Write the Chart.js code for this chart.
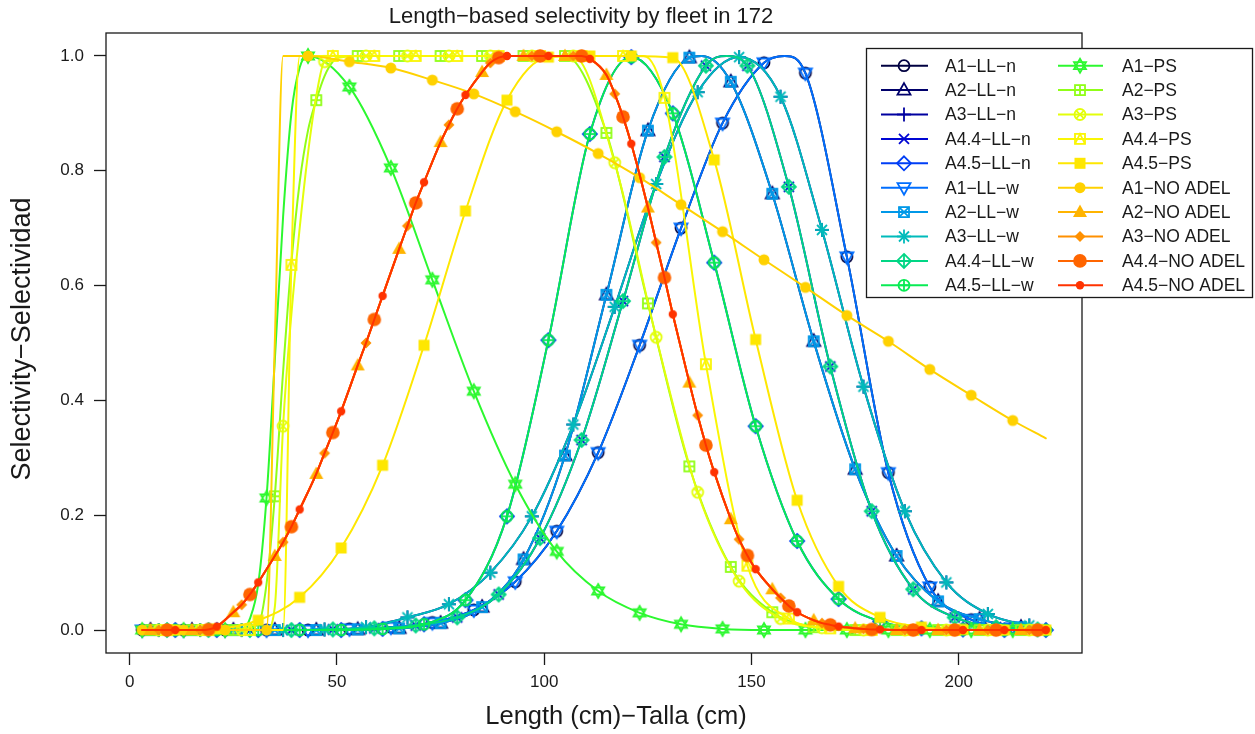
<!DOCTYPE html>
<html>
<head>
<meta charset="utf-8">
<script src="https://cdn.jsdelivr.net/npm/chart.js@4.4.1/dist/chart.umd.min.js"></script>
<style>
  html, body { margin: 0; padding: 0; background: #fff; }
</style>
</head>
<body>
<canvas id="chartSelex" width="1255" height="734"></canvas>
<script>
// values (length in cm, selectivity 0..1)
const lenA1LL = [3,13,23,33,43,53,63,73,83,93,103,113,123,133,143,153,158,163,173,183,193,203,213,221];
const selA1LL = [0,0,0,0,0,0.002,0.005,0.013,0.035,0.084,0.172,0.309,0.496,0.700,0.883,0.988,1.000,0.970,0.650,0.274,0.075,0.018,0.004,0.001];

const lenA2LL = [5,15,25,35,45,55,65,75,85,95,105,115,125,135,138,145,155,165,175,185,195,205,215,221];
const selA2LL = [0,0,0,0,0,0.001,0.003,0.012,0.040,0.123,0.304,0.584,0.870,0.997,1.000,0.955,0.760,0.503,0.280,0.129,0.050,0.019,0.005,0.002];

const lenA3LL = [7,17,27,37,47,57,67,77,87,97,107,117,127,137,147,157,167,177,187,197,207,217,221];
const selA3LL = [0,0,0,0,0.001,0.005,0.022,0.045,0.100,0.198,0.358,0.563,0.777,0.937,0.998,0.929,0.697,0.424,0.207,0.083,0.028,0.008,0.004];

const lenA44LL = [9,19,29,39,49,59,69,79,89,99,109,119,129,139,144,149,159,169,179,189,199,209,219,221];
const selA44LL = [0,0,0,0,0.001,0.003,0.008,0.022,0.062,0.160,0.331,0.573,0.824,0.983,1.000,0.983,0.772,0.459,0.207,0.071,0.022,0.005,0.001,0.001];

const lenA45LL = [11,21,31,41,51,61,71,81,91,101,111,121,131,141,151,161,171,181,191,201,211,221];
const selA45LL = [0,0,0,0,0,0.002,0.010,0.052,0.198,0.505,0.864,0.998,0.900,0.640,0.355,0.155,0.054,0.015,0.003,0.001,0,0];

const lenA1PS = [3,13,23,27,29,31,33,35,37,39,41,43,53,63,73,83,93,103,113,123,133,143,153,163,173,183,193,203,213,221];
const selA1PS = [0,0,0,0,0.02,0.08,0.23,0.47,0.72,0.90,0.98,1.00,0.946,0.805,0.610,0.416,0.254,0.137,0.068,0.030,0.010,0.002,0,0,0,0,0,0,0,0];

const lenA2PS = [5,15,25,31,33,35,37,39,41,43,45,47,49,51,55,65,75,85,95,105,115,125,135,145,155,165,175,185,195,205,215,221];
const selA2PS = [0,0,0,0.01,0.08,0.233,0.45,0.64,0.78,0.87,0.923,0.965,0.99,1,1,1,1,1,1,1,0.866,0.569,0.285,0.110,0.031,0.005,0,0,0,0,0,0];

const lenA3PS = [7,17,27,33,35,37,39,41,43,45,47,57,67,77,87,97,107,117,127,137,147,157,167,177,187,197,207,217,221];
const selA3PS = [0,0,0,0,0.04,0.355,0.55,0.70,0.83,0.93,0.99,1,1,1,1,1,1,0.814,0.510,0.240,0.085,0.020,0.004,0,0,0,0,0,0];

const lenA44PS = [9,19,29,37,39,41,49,59,69,79,89,99,109,119,124,129,139,149,159,169,179,189,199,209,219,221];
const selA44PS = [0,0,0,0,0.636,1,1,1,1,1,1,1,1,1,1,0.927,0.463,0.112,0.020,0.003,0,0,0,0,0,0];

const lenA45PS = [11,21,31,41,51,61,71,81,91,101,111,121,131,141,151,161,171,181,191,201,211,221];
const selA45PS = [0,0.002,0.017,0.057,0.143,0.287,0.496,0.730,0.923,0.998,1,1,0.997,0.819,0.506,0.226,0.076,0.022,0.005,0.001,0,0];

const lenA1NoAdel = [3,13,23,33,35,37,43,53,63,73,83,93,103,113,123,133,143,153,163,173,183,193,203,213,221];
const selA1NoAdel = [0,0,0,0,0.5,1,1,0.990,0.979,0.958,0.934,0.903,0.868,0.830,0.788,0.741,0.694,0.645,0.597,0.548,0.503,0.454,0.409,0.365,0.334];

// A2..A4.5 NO ADEL share one curve
const lenNoAdel = [3,5,7,9,11,15,17,19,21,25,27,29,31,35,37,39,41,45,47,49,51,55,57,59,61,65,67,69,71,75,77,79,81,85,87,89,91,95,97,99,101,105,107,109,111,115,117,119,121,125,127,129,131,135,137,139,141,145,147,149,151,155,157,159,161,165,167,169,171,175,177,179,181,185,187,189,191,195,197,199,201,205,207,209,211,215,217,219,221];
const selNoAdel = [0,0,0,0,0,0,0,0.001,0.006,0.031,0.044,0.062,0.083,0.129,0.153,0.180,0.210,0.272,0.308,0.344,0.381,0.461,0.500,0.541,0.582,0.664,0.704,0.744,0.780,0.850,0.880,0.908,0.932,0.972,0.988,0.997,1,1,1,1,1,1,1,1,0.995,0.967,0.934,0.894,0.847,0.736,0.675,0.614,0.550,0.431,0.374,0.322,0.275,0.193,0.158,0.130,0.106,0.071,0.056,0.042,0.031,0.017,0.012,0.009,0.006,0.003,0.002,0.001,0.001,0,0,0,0,0,0,0,0,0,0,0,0,0,0,0,0];

const fleetNames = ['A1−LL−n','A2−LL−n','A3−LL−n','A4.4−LL−n','A4.5−LL−n',
                    'A1−LL−w','A2−LL−w','A3−LL−w','A4.4−LL−w','A4.5−LL−w',
                    'A1−PS','A2−PS','A3−PS','A4.4−PS','A4.5−PS',
                    'A1−NO ADEL','A2−NO ADEL','A3−NO ADEL','A4.4−NO ADEL','A4.5−NO ADEL'];
const fleetLen = [lenA1LL,lenA2LL,lenA3LL,lenA44LL,lenA45LL, lenA1LL,lenA2LL,lenA3LL,lenA44LL,lenA45LL,
                  lenA1PS,lenA2PS,lenA3PS,lenA44PS,lenA45PS, lenA1NoAdel,lenNoAdel,lenNoAdel,lenNoAdel,lenNoAdel];
const fleetSel = [selA1LL,selA2LL,selA3LL,selA44LL,selA45LL, selA1LL,selA2LL,selA3LL,selA44LL,selA45LL,
                  selA1PS,selA2PS,selA3PS,selA44PS,selA45PS, selA1NoAdel,selNoAdel,selNoAdel,selNoAdel,selNoAdel];
const fleetCols = ['#000040','#00006B','#0000A0','#0006D3','#003EF6','#006EFE','#0098E8','#00BBBB','#01D685','#08EB54',
                   '#2CF82F','#90FE17','#E3FE0A','#FAF604','#FEE701','#FFD100','#FFB400','#FF9000','#FF6500','#FF3300'];
const xTicks = [0, 50, 100, 150, 200];
const yTicks = [0, 0.2, 0.4, 0.6, 0.8, 1.0];

const FONT = "'Liberation Sans', Arial, sans-serif";
const INK = '#1a1a1a';

// R-like plotting symbols, pch 1..20
function drawPch(c, pch, col, x, y) {
  c.save();
  c.strokeStyle = col; c.fillStyle = col; c.lineWidth = 1.8;
  const circle = r => { c.beginPath(); c.arc(x, y, r, 0, Math.PI * 2); };
  const seg = (x1, y1, x2, y2) => { c.beginPath(); c.moveTo(x + x1, y + y1); c.lineTo(x + x2, y + y2); c.stroke(); };
  const poly = pts => { c.beginPath(); pts.forEach((p, i) => i ? c.lineTo(x + p[0], y + p[1]) : c.moveTo(x + p[0], y + p[1])); c.closePath(); };
  const sq = 5;
  switch (pch) {
    case 1: circle(5.5); c.stroke(); break;
    case 2: poly([[0,-7],[6.5,4.5],[-6.5,4.5]]); c.stroke(); break;
    case 3: seg(-7,0,7,0); seg(0,-7,0,7); break;
    case 4: seg(-5,-5,5,5); seg(-5,5,5,-5); break;
    case 5: poly([[0,-7],[7,0],[0,7],[-7,0]]); c.stroke(); break;
    case 6: poly([[0,7],[6.5,-4.5],[-6.5,-4.5]]); c.stroke(); break;
    case 7: c.strokeRect(x-sq, y-sq, 2*sq, 2*sq); seg(-sq,-sq,sq,sq); seg(-sq,sq,sq,-sq); break;
    case 8: seg(-7,0,7,0); seg(0,-7,0,7); seg(-5,-5,5,5); seg(-5,5,5,-5); break;
    case 9: poly([[0,-7],[7,0],[0,7],[-7,0]]); c.stroke(); seg(-7,0,7,0); seg(0,-7,0,7); break;
    case 10: circle(5.5); c.stroke(); seg(-5.5,0,5.5,0); seg(0,-5.5,0,5.5); break;
    case 11: poly([[0,-7],[6,3.5],[-6,3.5]]); c.stroke(); poly([[0,7],[6,-3.5],[-6,-3.5]]); c.stroke(); break;
    case 12: c.strokeRect(x-sq, y-sq, 2*sq, 2*sq); seg(-sq,0,sq,0); seg(0,-sq,0,sq); break;
    case 13: circle(5.5); c.stroke(); seg(-3.9,-3.9,3.9,3.9); seg(-3.9,3.9,3.9,-3.9); break;
    case 14: c.strokeRect(x-sq, y-sq, 2*sq, 2*sq); c.beginPath(); c.moveTo(x-sq, y+sq); c.lineTo(x, y-sq); c.lineTo(x+sq, y+sq); c.stroke(); break;
    case 15: c.fillRect(x-5.5, y-5.5, 11, 11); break;
    case 16: circle(5.5); c.fill(); break;
    case 17: poly([[0,-7.5],[7,5],[-7,5]]); c.fill(); break;
    case 18: poly([[0,-5.5],[5.5,0],[0,5.5],[-5.5,0]]); c.fill(); break;
    case 19: circle(6.8); c.fill(); break;
    case 20: circle(4.2); c.fill(); break;
  }
  c.restore();
}

function pchImage(pch, col) {
  const cv = document.createElement('canvas');
  cv.width = 24; cv.height = 24;
  drawPch(cv.getContext('2d'), pch, col, 12, 12);
  return cv;
}

// markers every 10 cm, shifted 2 cm per fleet within each group of five
function isMarker(x, i) {
  return ((x - 3 - 2 * (i % 5)) % 10 + 10) % 10 === 0;
}

const datasets = fleetNames.map((name, i) => ({
  label: name,
  data: fleetLen[i].map((x, k) => ({ x: x, y: fleetSel[i][k] })),
  borderColor: fleetCols[i],
  backgroundColor: fleetCols[i],
  borderWidth: 2,
  borderCapStyle: 'round',
  borderJoinStyle: 'round',
  fill: false,
  cubicInterpolationMode: 'monotone',
  pointStyle: pchImage(i + 1, fleetCols[i]),
  pointRadius: ctx => (ctx.raw && isMarker(ctx.raw.x, i)) ? 6 : 0,
  pointHoverRadius: 0,
  order: 19 - i
}));

const framePlugin = {
  id: 'frame',
  afterDatasetsDraw(chart) {
    const a = chart.chartArea, c = chart.ctx;
    c.save();
    c.strokeStyle = INK; c.lineWidth = 1.3;
    c.strokeRect(a.left, a.top, a.right - a.left, a.bottom - a.top);
    c.restore();
  }
};

const textPlugin = {
  id: 'texts',
  afterDraw(chart) {
    const c = chart.ctx;
    c.save();
    c.fillStyle = INK;
    c.textAlign = 'center'; c.textBaseline = 'middle';
    c.font = '22px ' + FONT;
    c.fillText('Length−based selectivity by fleet in 172', 581, 17);
    c.font = '25.5px ' + FONT;
    c.fillText('Length (cm)−Talla (cm)', 616, 717);
    c.translate(23, 339);
    c.rotate(-Math.PI / 2);
    c.font = '27px ' + FONT;
    c.fillText('Selectivity−Selectividad', 0, 0);
    c.restore();
  }
};

const legendPlugin = {
  id: 'fleetLegend',
  afterDraw(chart) {
    const c = chart.ctx;
    c.save();
    c.fillStyle = '#fff';
    c.fillRect(866.5, 48.5, 386, 249);
    c.strokeStyle = INK; c.lineWidth = 1.3;
    c.strokeRect(866.5, 48.5, 386, 249);
    c.font = '17.5px ' + FONT;
    c.textAlign = 'left'; c.textBaseline = 'middle';
    const cols = [{ x1: 881, x2: 928, xm: 904, xt: 945 }, { x1: 1058, x2: 1103, xm: 1080, xt: 1122 }];
    fleetNames.forEach((name, i) => {
      const col = cols[Math.floor(i / 10)];
      const y = 65.7 + 24.4 * (i % 10);
      c.strokeStyle = fleetCols[i]; c.lineWidth = 2;
      c.beginPath(); c.moveTo(col.x1, y); c.lineTo(col.x2, y); c.stroke();
      drawPch(c, i + 1, fleetCols[i], col.xm, y);
      c.fillStyle = INK;
      c.fillText(name, col.xt, y + 1);
    });
    c.restore();
  }
};

new Chart(document.getElementById('chartSelex'), {
  type: 'line',
  data: { datasets: datasets },
  options: {
    responsive: false,
    animation: false,
    devicePixelRatio: 1,
    events: [],
    layout: { padding: { top: 33, right: 173, left: 0, bottom: 0 } },
    plugins: { legend: { display: false }, tooltip: { enabled: false }, title: { display: false } },
    scales: {
      x: {
        type: 'linear', min: -5.72, max: 229.72,
        afterBuildTicks: s => { s.ticks = xTicks.map(v => ({ value: v })); },
        afterFit: s => { s.height = 81; },
        ticks: { color: INK, font: { family: FONT, size: 17 }, padding: 7, maxRotation: 0, autoSkip: false },
        grid: { display: true, drawOnChartArea: false, drawTicks: true, tickLength: 12, tickColor: INK, tickWidth: 1.3 },
        border: { display: false }
      },
      y: {
        type: 'linear', min: -0.04, max: 1.04,
        afterBuildTicks: s => { s.ticks = yTicks.map(v => ({ value: v })); },
        afterFit: s => { s.width = 106; },
        ticks: { color: INK, font: { family: FONT, size: 17 }, padding: 10, autoSkip: false, callback: v => v.toFixed(1) },
        grid: { display: true, drawOnChartArea: false, drawTicks: true, tickLength: 12, tickColor: INK, tickWidth: 1.3 },
        border: { display: false }
      }
    }
  },
  plugins: [framePlugin, textPlugin, legendPlugin]
});
</script>
</body>
</html>
